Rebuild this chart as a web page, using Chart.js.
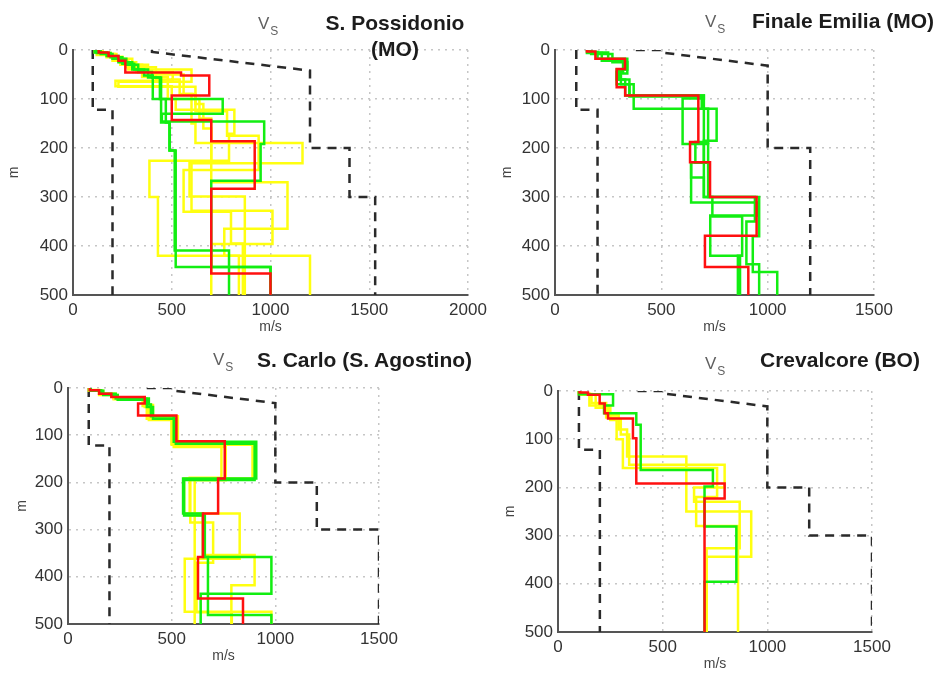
<!DOCTYPE html>
<html>
<head>
<meta charset="utf-8">
<title>Vs profiles</title>
<script src="https://cdn.jsdelivr.net/npm/chart.js@4.4.0/dist/chart.umd.min.js"></script>
<style>
  body { margin: 0; background: #fff; }
  #page { position: relative; width: 935px; height: 673px; overflow: hidden; font-family: Arial, "Liberation Sans", sans-serif; }
  canvas { position: absolute; }
  .vs { position: absolute; font-size: 17px; color: #606060; line-height: 18px; white-space: nowrap; }
  .vs span { font-size: 12px; position: relative; top: 6px; left: 1px; }
  .site { position: absolute; font-weight: bold; font-size: 21px; color: #1c1c1c; line-height: 26px; white-space: nowrap; }
</style>
</head>
<body>
<div id="page">
  <canvas id="possidonio" width="500" height="340" style="left:0;top:0"></canvas>
  <canvas id="finale" width="455" height="340" style="left:480px;top:0"></canvas>
  <canvas id="carlo" width="480" height="333" style="left:0;top:340px"></canvas>
  <canvas id="crevalcore" width="455" height="333" style="left:480px;top:340px"></canvas>

  <div class="vs" style="left:258px;top:15px">V<span>S</span></div>
  <div class="site" style="left:323px;top:10px;width:144px;text-align:center">S. Possidonio<br>(MO)</div>
  <div class="vs" style="left:705px;top:13px">V<span>S</span></div>
  <div class="site" style="left:752px;top:8px">Finale Emilia (MO)</div>
  <div class="vs" style="left:213px;top:351px">V<span>S</span></div>
  <div class="site" style="left:257px;top:347px">S. Carlo (S. Agostino)</div>
  <div class="vs" style="left:705px;top:355px">V<span>S</span></div>
  <div class="site" style="left:760px;top:347px">Crevalcore (BO)</div>
</div>

<script>
const depthMax = 500;
const velocityStep = 500;
const depthStep = 100;

// each profile: layer top depths (m) and shear-wave velocity of that layer (m/s)

// S. Possidonio (MO)
const posRed = [
    { z: [0, 5, 12, 22, 46, 52, 93, 143, 186, 283, 456], vs: [130, 180, 230, 265, 547, 690, 500, 700, 920, 700, 1000] }
];
const posGreen = [
    { z: [0, 6, 15, 28, 40, 56, 100, 148, 205, 409], vs: [120, 190, 250, 310, 380, 440, 470, 490, 515, 790] },
    { z: [0, 8, 18, 30, 45, 56, 148, 205, 443], vs: [140, 200, 270, 330, 400, 446, 488, 520, 1000] },
    { z: [0, 5, 12, 25, 40, 52, 100, 130, 146, 192, 267, 443], vs: [110, 170, 230, 300, 360, 404, 758, 450, 968, 950, 700, 1000] }
];
const posYellow = [
    { z: [0, 6, 14, 25, 45, 63, 74, 100, 122, 171, 226, 300, 420], vs: [130, 190, 250, 320, 505, 215, 500, 520, 817, 790, 387, 430, 840] },
    { z: [0, 8, 18, 30, 50, 90, 150, 190, 231, 299], vs: [150, 220, 300, 380, 560, 600, 620, 1162, 590, 870] },
    { z: [0, 10, 22, 40, 65, 75, 110, 160, 270, 365, 420], vs: [120, 200, 280, 600, 230, 620, 660, 700, 1086, 766, 1200] },
    { z: [0, 5, 15, 30, 55, 100, 140, 230, 328, 396], vs: [110, 170, 240, 350, 480, 640, 700, 600, 1010, 700] },
    { z: [0, 8, 20, 35, 60, 90, 125, 175, 245, 330, 395], vs: [140, 210, 270, 420, 540, 620, 780, 940, 560, 800, 860] }
];
const posLower = { z: [0, 122, 122, 500], vs: [100, 100, 200, 200] };
const posUpper = { z: [0, 4, 42, 200, 200, 300, 300, 500], vs: [400, 400, 1200, 1200, 1400, 1400, 1530, 1530] };

// Finale Emilia (MO)
const finRed = [
    { z: [0, 3, 18, 39, 76, 93, 188, 229, 300, 379, 443], vs: [150, 190, 329, 290, 330, 674, 635, 729, 948, 705, 909] }
];
const finGreen = [
    { z: [0, 4, 18, 40, 60, 93, 188, 230, 300, 380, 453], vs: [160, 200, 340, 300, 330, 700, 660, 720, 960, 930, 1045] },
    { z: [0, 6, 22, 45, 70, 120, 185, 229, 311, 338, 420], vs: [150, 220, 320, 290, 370, 760, 700, 640, 950, 730, 870] },
    { z: [0, 5, 20, 40, 60, 93, 99, 192, 229, 260, 300, 350, 437], vs: [170, 250, 330, 290, 350, 700, 600, 720, 640, 700, 940, 900, 960] },
    { z: [0, 8, 25, 48, 70, 95, 120, 190, 300, 340, 420], vs: [170, 270, 340, 310, 350, 690, 720, 700, 740, 880, 860] }
];
const finYellow = [];
const finLower = { z: [0, 122, 122, 500], vs: [100, 100, 200, 200] };
const finUpper = { z: [0, 0, 5, 32, 200, 200, 500], vs: [380, 500, 500, 1000, 1000, 1200, 1200] };

// S. Carlo (S. Agostino)
const carRed = [
    { z: [0, 5, 12, 19, 33, 58, 113, 192, 266, 358, 446], vs: [105, 150, 209, 370, 338, 523, 756, 724, 651, 627, 844] }
];
const carGreen = [
    { z: [0, 5, 12, 22, 35, 60, 114, 192, 266, 358, 436], vs: [105, 160, 230, 390, 400, 510, 908, 555, 651, 981, 640] },
    { z: [0, 6, 15, 25, 40, 65, 118, 195, 270, 358, 481], vs: [110, 170, 240, 380, 410, 520, 900, 560, 660, 675, 981] }
];
const carYellow = [
    { z: [0, 5, 12, 22, 35, 62, 120, 192, 266, 362, 474], vs: [110, 160, 230, 380, 400, 500, 890, 560, 828, 563, 981] },
    { z: [0, 6, 14, 24, 38, 65, 118, 190, 270, 354, 418], vs: [100, 170, 220, 360, 380, 500, 740, 587, 651, 900, 788] },
    { z: [0, 5, 15, 25, 40, 68, 125, 195], vs: [110, 150, 240, 370, 390, 510, 760, 611] },
    { z: [0, 4, 12, 22, 36, 60, 115, 195, 285, 370, 475], vs: [105, 150, 220, 380, 410, 530, 760, 590, 700, 620, 790] }
];
const carLower = { z: [0, 122, 122, 500], vs: [100, 100, 200, 200] };
const carUpper = { z: [0, 0, 5, 32, 200, 200, 300, 300, 500], vs: [380, 500, 500, 1000, 1000, 1200, 1200, 1500, 1500] };

// Crevalcore (BO)
const creRed = [
    { z: [0, 3, 8, 26, 46, 57, 98, 192, 223], vs: [103, 143, 199, 223, 239, 358, 374, 796, 700] }
];
const creGreen = [
    { z: [0, 7, 30, 46, 70, 164, 198, 281, 396], vs: [100, 263, 220, 374, 395, 740, 700, 852, 700] }
];
const creYellow = [
    { z: [0, 5, 30, 50, 80, 136, 250, 344], vs: [100, 150, 240, 290, 330, 613, 923, 710] },
    { z: [0, 8, 35, 60, 90, 153, 200, 230, 326], vs: [110, 180, 250, 300, 340, 796, 650, 868, 710] },
    { z: [0, 6, 25, 55, 100, 160, 220, 280], vs: [100, 160, 230, 280, 310, 760, 660, 860] }
];
const creLower = { z: [0, 122, 122, 500], vs: [100, 100, 200, 200] };
const creUpper = { z: [0, 0, 5, 32, 200, 200, 300, 300, 500], vs: [380, 500, 500, 1000, 1000, 1200, 1200, 1500, 1500] };

Chart.defaults.font.family = 'Arial, "Liberation Sans", sans-serif';

// layered profile -> points; last layer runs down to the bottom of the plot
function profilePoints(p) {
    const pts = p.z.map((z, i) => ({ x: p.vs[i], y: z }));
    pts.push({ x: p.vs[p.vs.length - 1], y: depthMax });
    return pts;
}

function profileSet(p, color, order) {
    return {
        data: profilePoints(p),
        showLine: true,
        stepped: 'after',
        borderColor: color,
        borderWidth: 2.5,
        pointRadius: 0,
        order: order
    };
}

function referenceSet(p) {
    return {
        data: p.z.map((z, i) => ({ x: p.vs[i], y: z })),
        showLine: true,
        borderColor: '#2a2a2a',
        borderWidth: 2.5,
        borderDash: [9, 7],
        pointRadius: 0,
        order: 3
    };
}

function makePanel(id, set, box) {
    const datasets = [];
    set.red.forEach(p => datasets.push(profileSet(p, '#ff1010', 0)));
    set.green.forEach(p => datasets.push(profileSet(p, '#12ee12', 1)));
    set.yellow.forEach(p => datasets.push(profileSet(p, '#ffff10', 2)));
    datasets.push(referenceSet(set.lower));
    datasets.push(referenceSet(set.upper));

    const gridLines = { color: '#c6c6c6', lineWidth: 1.5, drawTicks: false };
    const axisLine = { color: '#555', width: 2, dash: [2, 5] };

    new Chart(document.getElementById(id), {
        type: 'scatter',
        data: { datasets: datasets },
        options: {
            responsive: false,
            animation: false,
            events: [],
            layout: { padding: { left: 0, top: box.top, right: box.right, bottom: 0 } },
            plugins: { legend: { display: false }, tooltip: { enabled: false } },
            scales: {
                x: {
                    type: 'linear',
                    min: 0,
                    max: set.xMax,
                    ticks: { stepSize: velocityStep, padding: 5, color: '#333', font: { size: 17 }, callback: v => String(v) },
                    grid: gridLines,
                    border: axisLine,
                    title: { display: true, text: 'm/s', color: '#444', font: { size: 14 }, padding: { top: 0, bottom: box.xTitlePad } },
                    afterFit: scale => { scale.height = box.xHeight; }
                },
                y: {
                    type: 'linear',
                    reverse: true,
                    min: 0,
                    max: depthMax,
                    ticks: { stepSize: depthStep, padding: 5, color: '#333', font: { size: 17 }, callback: v => String(v) },
                    grid: gridLines,
                    border: axisLine,
                    title: { display: true, text: 'm', color: '#444', font: { size: 14 }, padding: { top: box.yTitlePad, bottom: 0 } },
                    afterFit: scale => { scale.width = box.yWidth; }
                }
            }
        }
    });
}

makePanel('possidonio',
    { red: posRed, green: posGreen, yellow: posYellow, lower: posLower, upper: posUpper, xMax: 2000 },
    { top: 50, right: 32, yWidth: 73, xHeight: 45, xTitlePad: 4, yTitlePad: 6 });

makePanel('finale',
    { red: finRed, green: finGreen, yellow: finYellow, lower: finLower, upper: finUpper, xMax: 1500 },
    { top: 50, right: 61, yWidth: 75, xHeight: 45, xTitlePad: 4, yTitlePad: 19 });

makePanel('carlo',
    { red: carRed, green: carGreen, yellow: carYellow, lower: carLower, upper: carUpper, xMax: 1500 },
    { top: 48, right: 101, yWidth: 68, xHeight: 49, xTitlePad: 8, yTitlePad: 14 });

makePanel('crevalcore',
    { red: creRed, green: creGreen, yellow: creYellow, lower: creLower, upper: creUpper, xMax: 1500 },
    { top: 51, right: 63, yWidth: 78, xHeight: 41, xTitlePad: 0, yTitlePad: 22 });
</script>
</body>
</html>
